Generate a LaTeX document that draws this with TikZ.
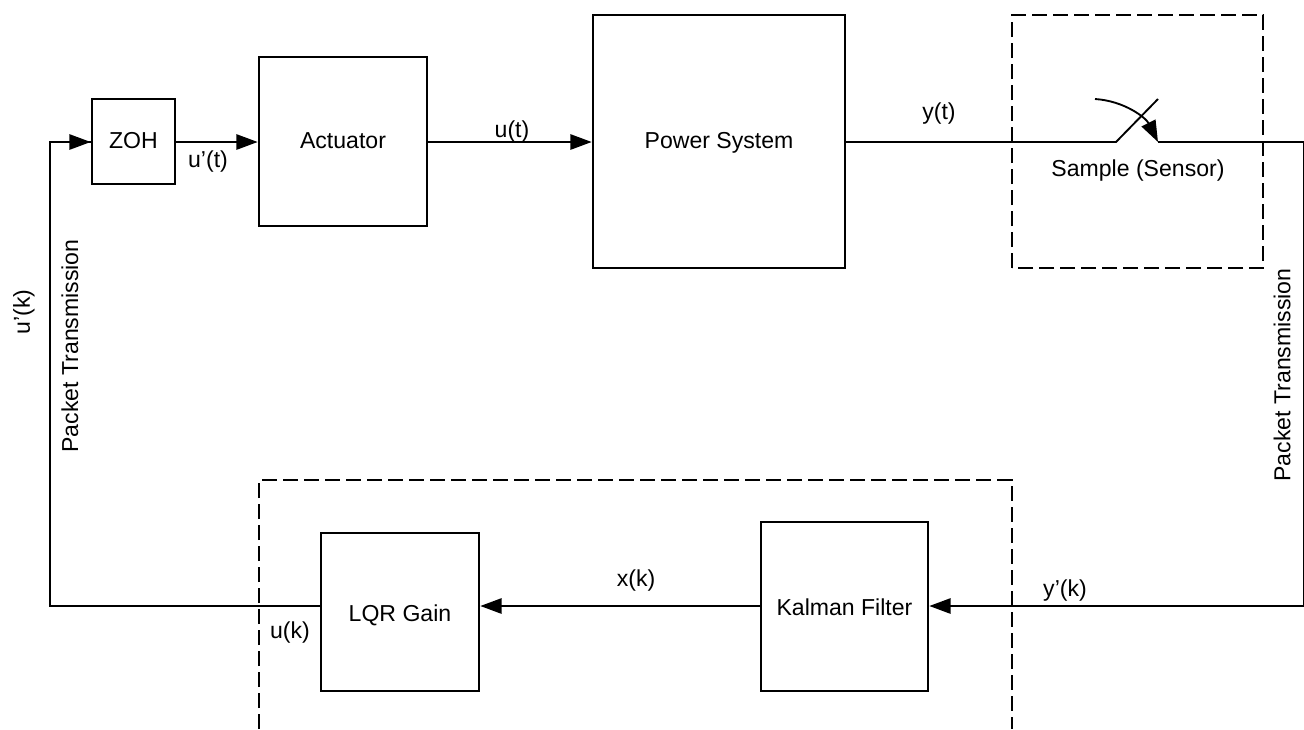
\documentclass[tikz,border=0pt]{standalone}
\usepackage{fontspec}
\setmainfont{Liberation Sans}
\usetikzlibrary{arrows.meta}
\newcommand{\blocktext}[2]{\raisebox{-#1pt}[0pt][0pt]{#2}}
\tikzset{
  x=0.75pt,y=-0.75pt,
  blockbox/.style={draw=black,line width=1.4pt,minimum width=#1,inner sep=0pt,font=\fontsize{17.3}{20}\selectfont,outer sep=0pt},
  wire/.style={draw=black,line width=1.4pt},
  flow/.style={wire,-{Triangle[length=16pt,width=11.5pt]},shorten >=1pt},
  dashbox/.style={draw=black,line width=1.4pt,dash pattern=on 11.5pt off 4.25pt},
  lbl/.style={font=\fontsize{17.3}{20}\selectfont,inner sep=0pt}
}
\begin{document}
\begin{tikzpicture}
\useasboundingbox (0,0) rectangle (1304,729);
% blocks
\node[blockbox=62.25pt,minimum height=63.75pt] (zoh) at (133.5,141.5) {\blocktext{5.6}{ZOH}};
\node[blockbox=126pt,minimum height=126.75pt] (act) at (343,141.5) {\blocktext{5.6}{Actuator}};
\node[blockbox=189pt,minimum height=189.75pt] (pow) at (719,141.5) {\blocktext{5.6}{Power System}};
\node[blockbox=118.5pt,minimum height=118.5pt] (lqr) at (400,612) {\blocktext{7.3}{LQR Gain}};
\node[blockbox=125.25pt,minimum height=126.75pt] (kal) at (844.5,606.5) {\blocktext{6.4}{Kalman Filter}};
% free ends
\coordinate (swa) at (1116,142);
\coordinate (swtip) at (1158,99);
\coordinate (swb) at (1158,142);
\coordinate (arcs) at (1095,99);
\coordinate (tr) at (1303.5,142);
\coordinate (br) at (1303.5,606);
\coordinate (tl) at (50,142);
\coordinate (bl) at (50,606);
\coordinate (lqrin) at (321,606);
\coordinate (lqrout) at (479,606);
\coordinate (kalin) at (928,606);
\coordinate (kalout) at (761,606);
% dashed groups
\draw[dashbox] (1012,268) -- (1012,15) -- (1263,15) -- (1263,268) -- cycle;
\draw[dashbox] (259,729) -- (259,480) -- (1012,480) -- (1012,729);
% connectors
\draw[flow] (zoh.east |- 0,142) -- (act.west |- 0,142);
\draw[flow] (act.east |- 0,142) -- (pow.west |- 0,142);
\draw[wire] (pow.east |- 0,142) -- (swa) -- (swtip);
\draw[wire] (swb) -- (tr) -- (br);
\draw[flow] (br) -- (kalin);
\draw[flow] (kalout) -- (lqrout);
\draw[wire,line join=miter] (lqrin) -- (bl) -- (tl) -- (zoh.west |- 0,142);
\draw[flow] (tl) -- (zoh.west |- 0,142);
\draw[wire,-{Triangle[length=16pt,width=11.5pt]}] (arcs) .. controls (1125,101) and (1146,118) .. (swb);
% labels
\node[lbl] (l1) at (208,162) {u’(t)};
\node[lbl] (l2) at (512,131.5) {u(t)};
\node[lbl] (l3) at (939,114) {y(t)};
\node[lbl] (l4) at (1138,171) {Sample (Sensor)};
\node[lbl] (l5) at (636,581) {x(k)};
\node[lbl] (l6) at (1065,590.5) {y’(k)};
\node[lbl] (l7) at (290,633) {u(k)};
\node[lbl,rotate=90] (l8) at (70,346) {Packet Transmission};
\node[lbl,rotate=90] (l9) at (24,312) {u’(k)};
\node[lbl,rotate=90] (l10) at (1282,375) {Packet Transmission};
\end{tikzpicture}
\end{document}
